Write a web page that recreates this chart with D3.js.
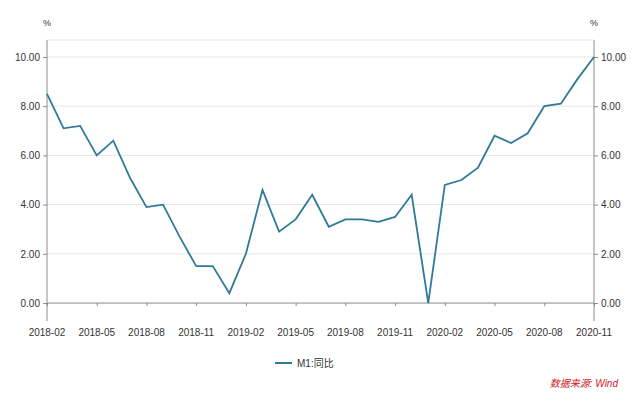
<!DOCTYPE html>
<html>
<head>
<meta charset="utf-8">
<script src="https://cdn.jsdelivr.net/npm/d3@7"></script>
<style>
  body { margin: 0; background: #fff; }
  svg text { font-family: "Liberation Sans", "Noto Sans CJK SC", sans-serif; }
</style>
</head>
<body>
<svg id="chart"></svg>
<script>
// M1 year-on-year growth, monthly
var months = ["2018-02","2018-03","2018-04","2018-05","2018-06","2018-07","2018-08","2018-09","2018-10","2018-11","2018-12",
              "2019-01","2019-02","2019-03","2019-04","2019-05","2019-06","2019-07","2019-08","2019-09","2019-10","2019-11","2019-12",
              "2020-01","2020-02","2020-03","2020-04","2020-05","2020-06","2020-07","2020-08","2020-09","2020-10","2020-11"];
var m1 = [8.5, 7.1, 7.2, 6.0, 6.6, 5.1, 3.9, 4.0, 2.7, 1.5, 1.5,
          0.4, 2.0, 4.6, 2.9, 3.4, 4.4, 3.1, 3.4, 3.4, 3.3, 3.5, 4.4,
          0.0, 4.8, 5.0, 5.5, 6.8, 6.5, 6.9, 8.0, 8.1, 9.1, 10.0];
var xTicks = ["2018-02","2018-05","2018-08","2018-11","2019-02","2019-05","2019-08","2019-11","2020-02","2020-05","2020-08","2020-11"];
var yTicks = [0, 2, 4, 6, 8, 10];

var svgWidth = 640, svgHeight = 397;
var plotL = 47, plotR = 594, plotT = 40, plotB = 321;

var svg = d3.select("#chart")
            .attr("width", svgWidth)
            .attr("height", svgHeight);

var xScale = d3.scalePoint()
               .domain(months)
               .range([plotL, plotR]);

var yScale = d3.scaleLinear()
               .domain([-0.73, 10.69])
               .range([plotB, plotT]);

var gridColor = "#e6e6e6", axisColor = "#8c8c8c", textColor = "#333";

// grid lines
svg.selectAll("line.grid")
   .data(yTicks.filter(function(d){ return d > 0; }))
   .enter()
   .append("line")
   .attr("x1", plotL).attr("x2", plotR)
   .attr("y1", function(d){ return yScale(d); })
   .attr("y2", function(d){ return yScale(d); })
   .attr("stroke", gridColor);

// top border
svg.append("line")
   .attr("x1", plotL).attr("x2", plotR)
   .attr("y1", plotT).attr("y2", plotT)
   .attr("stroke", gridColor);

// left axis
var yLeft = svg.append("g")
   .attr("transform", "translate(" + plotL + ",0)")
   .call(d3.axisLeft(yScale).tickValues(yTicks).tickSize(4).tickPadding(3).tickFormat(d3.format(".2f")));
// right axis
var yRight = svg.append("g")
   .attr("transform", "translate(" + plotR + ",0)")
   .call(d3.axisRight(yScale).tickValues(yTicks).tickSize(4).tickPadding(3).tickFormat(d3.format(".2f")));

[yLeft, yRight].forEach(function(g){
    g.select(".domain").attr("stroke", axisColor).attr("d", "M0," + plotT + "V" + plotB);
    g.selectAll(".tick line").attr("stroke", axisColor);
    g.selectAll("text").attr("fill", textColor).style("font-size", "10px");
});

// zero line with x ticks
var xAxis = svg.append("g")
   .attr("transform", "translate(0," + yScale(0) + ")")
   .call(d3.axisBottom(xScale).tickValues(xTicks).tickSize(3).tickFormat(""));
xAxis.select(".domain").attr("stroke", axisColor).attr("d", "M" + plotL + ",0H" + plotR);
xAxis.selectAll(".tick line").attr("stroke", axisColor);

// x labels below the plot
svg.selectAll("text.xlab")
   .data(xTicks)
   .enter()
   .append("text")
   .attr("x", function(d){ return xScale(d); })
   .attr("y", 336)
   .attr("text-anchor", "middle")
   .attr("fill", textColor)
   .style("font-size", "10px")
   .text(function(d){ return d; });

// units
svg.append("text").attr("x", plotL).attr("y", 26).attr("text-anchor", "middle")
   .attr("fill", textColor).style("font-size", "9px").text("%");
svg.append("text").attr("x", plotR).attr("y", 26).attr("text-anchor", "middle")
   .attr("fill", textColor).style("font-size", "9px").text("%");

// the line
var line = d3.line()
             .x(function(d, i){ return xScale(months[i]); })
             .y(function(d){ return yScale(d); });

svg.append("path")
   .datum(m1)
   .attr("d", line)
   .attr("fill", "none")
   .attr("stroke", "#2f7a99")
   .attr("stroke-width", 1.8)
   .attr("stroke-linejoin", "miter");

// legend
svg.append("line")
   .attr("x1", 275).attr("x2", 292)
   .attr("y1", 363).attr("y2", 363)
   .attr("stroke", "#2f7a99").attr("stroke-width", 2);
svg.append("text")
   .attr("x", 297).attr("y", 367)
   .attr("fill", textColor).style("font-size", "10px")
   .text("M1:同比");

// source
svg.append("text")
   .attr("x", 618).attr("y", 387)
   .attr("text-anchor", "end")
   .attr("fill", "#d0202a").style("font-size", "10px").style("font-style", "italic")
   .text("数据来源: Wind");
</script>
</body>
</html>
